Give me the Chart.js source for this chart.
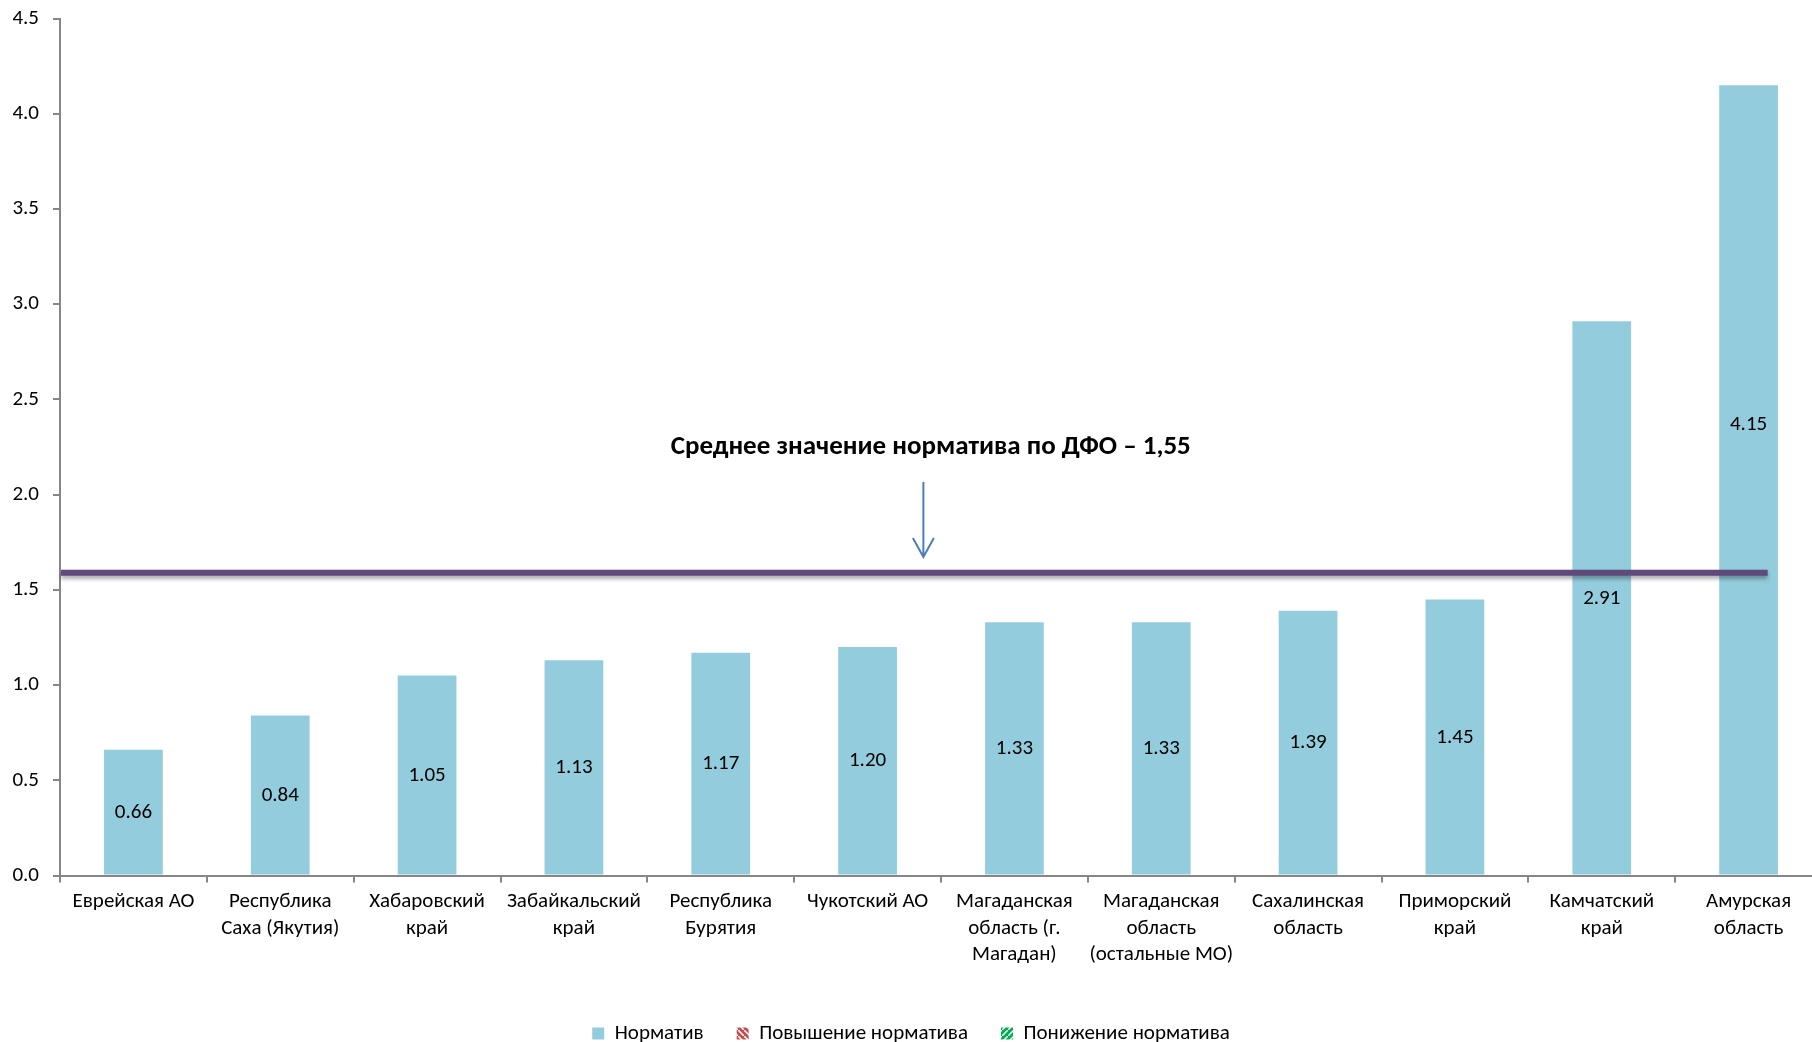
<!DOCTYPE html>
<html>
<head>
<meta charset="utf-8">
<script src="https://cdn.jsdelivr.net/npm/chart.js@4.4.0/dist/chart.umd.min.js"></script>
<style>
html, body { margin: 0; padding: 0; background: #fff; overflow: hidden; }
canvas { display: block; margin-top: -8px; }
</style>
</head>
<body>
<canvas id="myChart" width="1822" height="1062"></canvas>
<script>
const regions = [
    'Еврейская АО',
    ['Республика', 'Саха (Якутия)'],
    ['Хабаровский', 'край'],
    ['Забайкальский', 'край'],
    ['Республика', 'Бурятия'],
    'Чукотский АО',
    ['Магаданская', 'область (г.', 'Магадан)'],
    ['Магаданская', 'область', '(остальные МО)'],
    ['Сахалинская', 'область'],
    ['Приморский', 'край'],
    ['Камчатский', 'край'],
    ['Амурская', 'область']
];
const normValues = [0.66, 0.84, 1.05, 1.13, 1.17, 1.20, 1.33, 1.33, 1.39, 1.45, 2.91, 4.15];
const seriesNames = ['Норматив', 'Повышение норматива', 'Понижение норматива'];
const meanLevel = 1.59;
const meanTitle = 'Среднее значение норматива по ДФО – 1,55';
const yTicks = [0, 0.5, 1, 1.5, 2, 2.5, 3, 3.5, 4, 4.5];

const FONT = "Calibri, Carlito, 'Open Sans', sans-serif";

function hatch(bg, fg, dir) {
    const c = document.createElement('canvas');
    c.width = 6; c.height = 6;
    const g = c.getContext('2d');
    g.fillStyle = bg;
    g.fillRect(0, 0, 6, 6);
    g.strokeStyle = fg;
    g.lineWidth = 1.5;
    g.beginPath();
    if (dir > 0) { g.moveTo(0, 6); g.lineTo(6, 0); }
    else { g.moveTo(0, 0); g.lineTo(6, 6); }
    g.stroke();
    return g.createPattern(c, 'repeat');
}

// mean line, arrow, caption and value labels
const overlay = {
    id: 'overlay',
    afterDatasetsDraw(chart) {
        const ctx = chart.ctx;
        const area = chart.chartArea;
        const x = chart.scales.x, y = chart.scales.y;
        const step = x.getPixelForValue(1) - x.getPixelForValue(0);

        ctx.save();
        ctx.font = '21px ' + FONT;
        ctx.fillStyle = '#000';
        ctx.textAlign = 'center';
        ctx.textBaseline = 'middle';
        chart.getDatasetMeta(0).data.forEach((bar, i) => {
            const v = normValues[i];
            const pos = i === normValues.length - 1 ? v * 0.57 : v / 2;
            ctx.fillText(v.toFixed(2), bar.x, y.getPixelForValue(pos));
        });
        ctx.restore();

        const ly = y.getPixelForValue(meanLevel);
        ctx.save();
        ctx.shadowColor = 'rgba(0,0,0,0.35)';
        ctx.shadowBlur = 4;
        ctx.shadowOffsetY = 3;
        ctx.strokeStyle = '#604A7B';
        ctx.lineWidth = 6;
        ctx.beginPath();
        ctx.moveTo(area.left + 1, ly);
        ctx.lineTo(x.getPixelForValue(11) + 0.13 * step, ly);
        ctx.stroke();
        ctx.restore();

        const ax = x.getPixelForValue(5) + 0.38 * step;
        const a0 = y.getPixelForValue(2.066), a1 = y.getPixelForValue(1.673);
        ctx.save();
        ctx.strokeStyle = '#4A7EBB';
        ctx.lineWidth = 2;
        ctx.beginPath();
        ctx.moveTo(ax, a0);
        ctx.lineTo(ax, a1);
        ctx.moveTo(ax - 10.5, a1 - 19);
        ctx.lineTo(ax, a1);
        ctx.lineTo(ax + 10.5, a1 - 19);
        ctx.stroke();

        ctx.font = 'bold 27px ' + FONT;
        ctx.fillStyle = '#000';
        ctx.textAlign = 'center';
        ctx.textBaseline = 'middle';
        ctx.fillText(meanTitle, x.getPixelForValue(5) + 0.43 * step, y.getPixelForValue(2.25));
        ctx.restore();
    }
};

const ctx = document.getElementById('myChart').getContext('2d');
const myChart = new Chart(ctx, {
    type: 'bar',
    data: {
        labels: regions,
        datasets: [
            {
                label: seriesNames[0],
                data: normValues,
                backgroundColor: '#93CDDD',
                barPercentage: 0.4,
                categoryPercentage: 1.0
            },
            {
                label: seriesNames[1],
                data: [],
                backgroundColor: hatch('#C0504D', '#ffffff', -1)
            },
            {
                label: seriesNames[2],
                data: [],
                backgroundColor: hatch('#00B050', '#ffffff', 1)
            }
        ]
    },
    options: {
        responsive: false,
        animation: false,
        layout: { padding: 0 },
        plugins: {
            tooltip: { enabled: false },
            legend: {
                position: 'bottom',
                labels: {
                    font: { size: 21, family: FONT },
                    color: '#000',
                    boxWidth: 12,
                    boxHeight: 12,
                    padding: 33
                }
            }
        },
        scales: {
            x: {
                stacked: true,
                afterFit: s => { s.height = 114.5; },
                grid: { drawOnChartArea: false, tickLength: 7, color: '#868686', lineWidth: 2 },
                border: { color: '#868686', width: 2 },
                ticks: {
                    font: { size: 21, family: FONT, lineHeight: 1.27 },
                    color: '#000',
                    maxRotation: 0,
                    autoSkip: false,
                    padding: 6
                }
            },
            y: {
                stacked: true,
                min: 0,
                max: 4.5,
                afterFit: s => { s.width = 60; },
                afterBuildTicks: s => { s.ticks = yTicks.map(v => ({ value: v })); },
                grid: { drawOnChartArea: false, tickLength: 7, color: '#868686', lineWidth: 2 },
                border: { color: '#868686', width: 2 },
                ticks: {
                    font: { size: 21, family: FONT },
                    color: '#000',
                    padding: 14,
                    callback: v => v.toFixed(1)
                }
            }
        }
    },
    plugins: [overlay]
});
</script>
</body>
</html>
